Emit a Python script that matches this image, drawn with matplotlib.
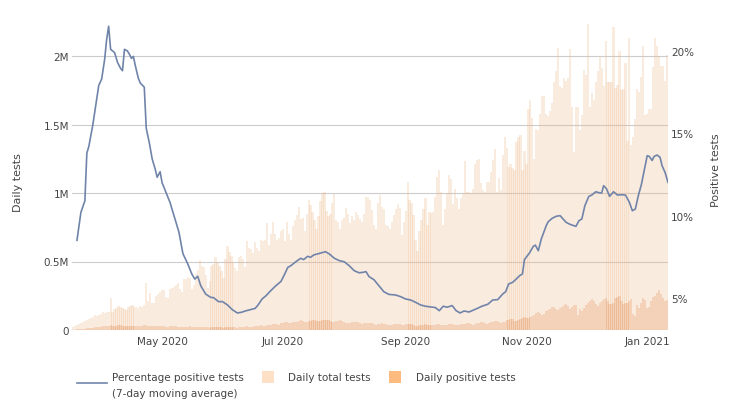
import matplotlib
matplotlib.use("Agg")
import matplotlib.pyplot as plt
import numpy as np
import pandas as pd
from matplotlib.lines import Line2D
from matplotlib.patches import Rectangle

# daily values, thousands, from 2020-03-17 to 2021-01-11
daily_tests_k = [
    25, 30, 35, 45, 50, 55, 65, 75, 80, 90,
    95, 110, 100, 110, 120, 130, 125, 130, 130, 230,
    135, 150, 160, 175, 165, 160, 150, 145, 165, 175,
    180, 170, 165, 160, 175, 165, 180, 340, 210, 270,
    200, 195, 250, 265, 275, 290, 290, 240, 230, 300,
    305, 315, 330, 345, 300, 280, 370, 375, 390, 380,
    300, 330, 410, 440, 510, 465, 460, 400, 310, 360,
    470, 480, 530, 490, 470, 430, 380, 520, 615, 570,
    540, 500, 450, 430, 530, 540, 520, 460, 650, 600,
    590, 560, 640, 600, 580, 660, 650, 660, 780,
    620, 700, 790, 700, 660, 670, 720, 740, 650, 790,
    700, 660, 760, 800, 840, 900, 810, 820, 720, 850,
    950, 910, 860, 800, 740, 830, 940, 1000, 1010, 870,
    830, 850, 930, 990, 800, 790, 740, 800, 820, 890,
    850, 780, 830, 800, 860, 840, 810, 790, 850, 970,
    970, 950, 875, 765, 740, 924, 985, 900, 880, 770,
    760, 740, 790, 838, 880, 917, 890, 696, 789, 870,
    1078, 950, 930, 838, 654, 574, 720, 800, 880, 966,
    770, 860, 855, 860, 970, 1120, 1170, 1010, 765, 880,
    1000, 1130, 1100, 920, 1030, 960, 880, 960, 990, 1230,
    1010, 1010, 1000, 1030, 1210, 1240, 1250, 1070, 1020, 1010,
    1080, 1080, 1150, 1240, 1320, 1010, 1110, 1020, 1280, 1410,
    1330, 1190, 1210, 1180, 1170, 1370, 1410, 1420, 1170, 1310,
    1210, 1610, 1680, 1550, 1250, 1470, 1460, 1580, 1710, 1710,
    1580, 1560, 1600, 1660, 1810, 1890, 2060, 1780, 1770, 1840,
    1820, 1840, 2050, 1630, 1300, 1630, 1630, 1460, 1570, 1900,
    1860, 2230, 1630, 1730, 1680, 1810, 1890, 1990, 1910, 1780,
    2110, 1810, 1810, 1810, 2210, 1770, 1790, 2040, 1750, 1760,
    1950, 1380, 2130, 1350, 1410, 1540, 1760, 1740, 1850, 2070,
    1570, 1580, 1610, 1610, 1920, 2130, 2070, 2000, 1930, 1930,
    1820, 2010,
]
daily_positive_k = [
    2, 3, 4, 5, 7, 9, 10, 11, 13, 15,
    17, 19, 20, 22, 25, 27, 28, 29, 30, 33,
    29, 30, 32, 33, 34, 32, 30, 28, 29, 31,
    32, 31, 30, 28, 29, 32, 33, 35, 30, 32,
    27, 26, 27, 28, 29, 28, 26, 24, 24, 26,
    27, 27, 26, 25, 22, 20, 23, 24, 25, 26,
    22, 20, 21, 22, 24, 24, 25, 21, 19, 18,
    20, 21, 23, 24, 23, 20, 18, 20, 21, 22,
    23, 23, 20, 18, 21, 22, 24, 25, 26, 24,
    20, 25, 27, 28, 32, 33, 30, 28, 35,
    38, 40, 44, 45, 43, 40, 48, 50, 55, 57,
    50, 48, 55, 60, 62, 65, 70, 63, 58, 60,
    66, 68, 70, 75, 68, 64, 66, 70, 72, 74,
    72, 66, 60, 62, 66, 68, 70, 67, 58, 50,
    48, 52, 55, 58, 60, 55, 50, 46, 50, 52,
    54, 52, 48, 42, 40, 45, 47, 48, 46, 43,
    38, 36, 40, 44, 45, 46, 42, 35, 38, 42,
    44, 46, 44, 40, 32, 28, 34, 37, 40, 43,
    40, 35, 37, 38, 40, 44, 45, 40, 35, 38,
    40, 45, 46, 44, 40, 36, 38, 42, 44, 46,
    50, 48, 42, 40, 45, 50, 52, 56, 55, 48,
    44, 50, 55, 60, 65, 68, 58, 54, 60, 62,
    70, 76, 80, 82, 68, 65, 75, 80, 90, 95,
    90, 85, 92, 105, 110, 125, 130, 125, 110, 120,
    140, 145, 155, 165, 170, 155, 145, 160, 170, 185,
    190, 175, 150, 165, 180, 185, 110, 150, 140, 160,
    180, 200, 210, 225, 215, 190, 175, 195, 215, 225,
    235, 215, 190, 190, 200, 230, 240, 250, 210, 190,
    195, 200, 215, 225, 120, 100, 180, 160, 200, 230,
    220, 160, 170, 210, 240, 250, 270, 295, 265, 230,
    210, 220,
]

# 7-day moving average of positive share
# (days after 2020-03-16, percent)
pct_day = [
    3, 5, 7, 8, 9, 11, 12.5, 14, 15.5, 17, 18, 19, 20, 22, 23.5, 25, 26, 27,
    28.5, 29.5, 30.5, 31.5, 32.5, 34, 35, 37, 38, 39.5, 41, 42.5, 43.5, 45,
    46, 48, 50, 52, 54.5, 56.5, 59, 61, 62.5, 64, 65.5, 68, 70.5, 72, 74.5,
    76.5, 79, 81.5, 84, 86, 88, 90.5, 93, 94.5, 96.5, 98.5, 100.5, 103.5,
    106, 107.5, 109.5, 111, 113.5, 116, 117.5, 119.5, 121, 122.5, 125.5,
    128.5, 130.5, 133, 135.5, 138, 140.5, 143, 145.5, 147.5, 149, 150.5,
    153, 155.5, 158, 160.5, 164, 166.5, 169, 171.5, 174, 176.5, 179, 181.5,
    184, 186, 188, 190, 192.5, 194.5, 196.5, 198.5, 201, 204.5, 207.5,
    210.5, 213, 215.5, 218, 219.5, 221, 223, 224.5, 226.5, 228, 229, 231.5,
    233.5, 234.5, 236, 237.5, 240, 241, 243, 245, 247, 248.5, 250, 251.5,
    253, 255, 256.5, 258, 259.5, 261.5, 263, 265, 266.5, 268, 269, 270.5,
    272, 274, 276, 278, 280, 282, 283.5, 285, 286.5, 288, 290, 291, 292,
    293.5, 294.5, 296, 297.5, 298.5, 300, 301.5,
]
pct_value = [
    8.5, 10.2, 10.9, 13.8, 14.2, 15.5, 16.7, 17.9, 18.3, 19.5, 20.7, 21.5,
    20.1, 19.9, 19.3, 18.95, 18.8, 20.1, 20.0, 19.8, 19.55, 19.67, 19.1,
    18.34, 18.05, 17.8, 15.3, 14.45, 13.44, 12.83, 12.33, 12.67, 12.0, 11.4,
    10.8, 10.0, 9.0, 7.7, 7.06, 6.46, 6.15, 6.32, 5.75, 5.24, 5.04, 5.02,
    4.78, 4.78, 4.58, 4.29, 4.09, 4.13, 4.21, 4.29, 4.37, 4.58, 4.94, 5.14,
    5.4, 5.75, 6.0, 6.35, 6.86, 6.96, 7.2, 7.41, 7.33, 7.53, 7.47, 7.61,
    7.71, 7.81, 7.67, 7.41, 7.27, 7.2, 6.96, 6.66, 6.53, 6.56, 6.6, 6.3,
    6.11, 5.75, 5.38, 5.22, 5.18, 5.08, 4.94, 4.88, 4.74, 4.58, 4.5, 4.46,
    4.42, 4.23, 4.5, 4.44, 4.54, 4.23, 4.09, 4.21, 4.15, 4.33, 4.5, 4.62,
    4.88, 4.9, 5.24, 5.38, 5.85, 5.95, 6.11, 6.35, 6.46, 7.33, 7.73, 8.14,
    8.21, 7.87, 8.58, 9.39, 9.63, 9.84, 9.96, 10.0, 9.8, 9.6, 9.5, 9.43,
    9.35, 9.69, 9.8, 10.6, 11.17, 11.25, 11.45, 11.4, 11.37, 11.82, 11.62,
    11.17, 11.45, 11.25, 11.27, 11.25, 10.81, 10.3, 10.4, 11.21, 11.86,
    13.03, 13.64, 13.6, 13.35, 13.6, 13.68, 13.54, 13.03, 12.63, 12.02,
]

x_ticks = ["2020-05-01", "2020-07-01", "2020-09-01", "2020-11-01", "2021-01-01"]
x_labels = ["May 2020", "Jul 2020", "Sep 2020", "Nov 2020", "Jan 2021"]
left_ticks = [0, 0.5e6, 1e6, 1.5e6, 2e6]
left_labels = ["0", "0.5M", "1M", "1.5M", "2M"]
right_ticks = [5, 10, 15, 20]
right_labels = ["5%", "10%", "15%", "20%"]

line_col = "#7084aa"
total_col = "#f0bd95"
pos_col = "#e8a673"
text_col = "#444444"

dates = pd.date_range("2020-03-17", periods=len(daily_tests_k), freq="D")
tests = np.array(daily_tests_k) * 1000
positives = np.array(daily_positive_k) * 1000
line_dates = pd.Timestamp("2020-03-16") + pd.to_timedelta(pct_day, unit="D")

plt.rcParams["font.family"] = "DejaVu Sans"
fig = plt.figure(figsize=(7.29, 4.14), dpi=100)
ax = fig.add_axes([72 / 729, 1 - 331 / 414, 596 / 729, 311 / 414])

# slightly overlapping translucent bars, like the source rendering
ax.bar(dates, tests, width=1.12, color=total_col, alpha=0.3, linewidth=0)
ax.bar(dates, positives, width=1.12, color=pos_col, alpha=0.35, linewidth=0)

ax.set_xlim(dates[0] - pd.Timedelta(hours=12), dates[-1] + pd.Timedelta(hours=12))
ax.set_ylim(0, 311 / 137 * 1e6)
ax.set_yticks(left_ticks)
ax.set_yticklabels(left_labels)
ax.set_xticks(pd.to_datetime(x_ticks))
ax.set_xticklabels(x_labels)
ax.grid(axis="y", color="#cccccc", linewidth=0.8)
ax.set_axisbelow(True)
ax.tick_params(axis="both", length=0, labelsize=7.5, labelcolor=text_col)
ax.tick_params(axis="y", pad=2)
ax.tick_params(axis="x", pad=4)
for s in ax.spines.values():
    s.set_visible(False)

ax2 = ax.twinx()
ax2.plot(line_dates, pct_value, color=line_col, linewidth=1.2)
ax2.set_ylim(5 - 32 / 16.47, 5 + 279 / 16.47)
ax2.set_yticks(right_ticks)
ax2.set_yticklabels(right_labels)
ax2.tick_params(axis="y", length=0, labelsize=7.5, labelcolor=text_col, pad=2)
for s in ax2.spines.values():
    s.set_visible(False)

fig.text(18 / 729, 1 - 183 / 414, "Daily tests", rotation=90, ha="center",
         va="center", fontsize=8, color=text_col)
fig.text(716 / 729, 1 - 170 / 414, "Positive tests", rotation=90, ha="center",
         va="center", fontsize=8, color=text_col)

# legend below the plot
W, H = 729, 414
fig.add_artist(Line2D([77 / W, 107 / W], [1 - 384 / H, 1 - 384 / H],
                      color=line_col, linewidth=1.2, transform=fig.transFigure))
fig.text(112 / W, 1 - 378 / H, "Percentage positive tests", fontsize=7.5,
         color=text_col, va="center")
fig.text(112 / W, 1 - 394 / H, "(7-day moving average)", fontsize=7.5,
         color=text_col, va="center")
fig.add_artist(Rectangle((262 / W, 1 - 384 / H), 12 / W, 12 / H,
                         facecolor="#fde0c5", edgecolor="none",
                         transform=fig.transFigure))
fig.text(288 / W, 1 - 378 / H, "Daily total tests", fontsize=7.5,
         color=text_col, va="center")
fig.add_artist(Rectangle((389 / W, 1 - 384 / H), 12 / W, 12 / H,
                         facecolor="#fdbb80", edgecolor="none",
                         transform=fig.transFigure))
fig.text(416 / W, 1 - 378 / H, "Daily positive tests", fontsize=7.5,
         color=text_col, va="center")

fig.savefig("out.png", dpi=100)
